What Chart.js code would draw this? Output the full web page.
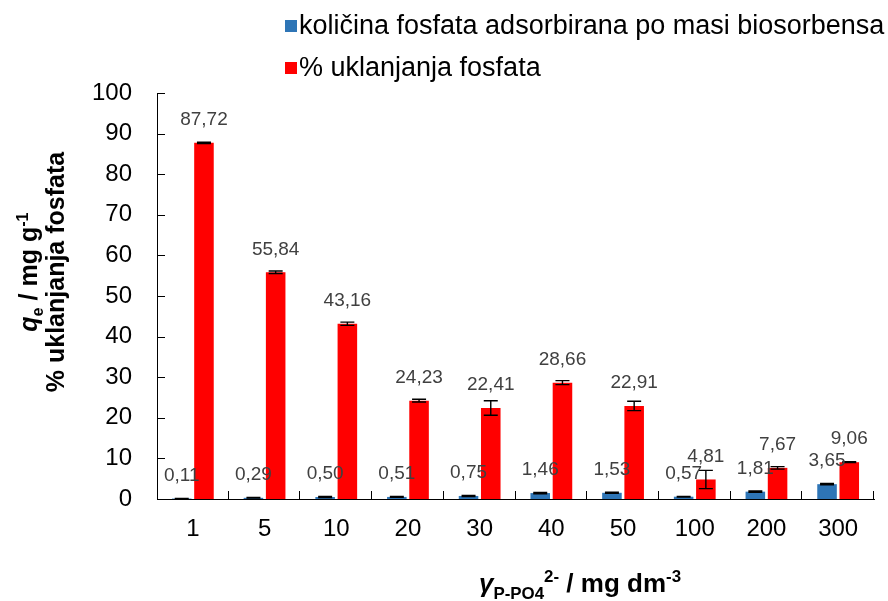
<!DOCTYPE html>
<html><head><meta charset="utf-8">
<script src="https://cdn.jsdelivr.net/npm/chart.js@4"></script>
<style>html,body{margin:0;padding:0;background:#fff}#wrap{width:888px;height:601px}</style>
</head><body><div id="wrap"><canvas id="c" width="888" height="601"></canvas></div>
<script>
const categories = ['1','5','10','20','30','40','50','100','200','300'];
const qeLabel = 'količina fosfata adsorbirana po masi biosorbensa';
const qeValues = [0.11, 0.29, 0.50, 0.51, 0.75, 1.46, 1.53, 0.57, 1.81, 3.65];
const qeErrors = [0.05, 0.08, 0.12, 0.12, 0.12, 0.15, 0.15, 0.08, 0.15, 0.15];
const removalLabel = '% uklanjanja fosfata';
const removalValues = [87.72, 55.84, 43.16, 24.23, 22.41, 28.66, 22.91, 4.81, 7.67, 9.06];
const removalErrors = [0.15, 0.3, 0.4, 0.35, 1.8, 0.5, 1.15, 2.25, 0.3, 0.1];
const yTickValues = [0, 10, 20, 30, 40, 50, 60, 70, 80, 90, 100];

const FONT = '"Liberation Sans", Arial, sans-serif';
const BLUE = '#2E75B6';
const RED = '#FF0000';

function fmt(v){ return v.toFixed(2).replace('.', ','); }

function richWidth(ctx, segs, base){
  let w = 0;
  for (const s of segs){
    const size = s.k ? base*0.65 : base;
    ctx.font = (s.i?'italic ':'') + 'bold ' + size + 'px ' + FONT;
    w += ctx.measureText(s.t).width;
  }
  return w;
}
function drawRich(ctx, segs, base, cx, baseline){
  const total = richWidth(ctx, segs, base);
  let x = cx - total/2;
  ctx.textAlign = 'left';
  ctx.textBaseline = 'alphabetic';
  for (const s of segs){
    const size = s.k ? base*0.65 : base;
    ctx.font = (s.i?'italic ':'') + 'bold ' + size + 'px ' + FONT;
    let dy = 0;
    if (s.k === 'sub') dy = base*0.25;
    if (s.k === 'sup') dy = -base*0.38;
    ctx.fillText(s.t, x, baseline + dy);
    x += ctx.measureText(s.t).width;
  }
}

const decor = {
  id: 'decor',
  afterDatasetsDraw(chart){
    const ctx = chart.ctx;
    const ys = chart.scales.y;
    const area = chart.chartArea;
    ctx.save();
    ctx.strokeStyle = '#000';
    ctx.lineWidth = 1;
    yTickValues.forEach(v => {
      const y = Math.round(ys.getPixelForValue(v)) + 0.5;
      ctx.beginPath(); ctx.moveTo(area.left, y); ctx.lineTo(area.left + 8, y); ctx.stroke();
    });
    const cw = (area.right - area.left) / categories.length;
    for (let i = 1; i <= categories.length; i++){
      const x = Math.round(area.left + i*cw) - 0.5;
      ctx.beginPath(); ctx.moveTo(x, area.bottom); ctx.lineTo(x, area.bottom - 8); ctx.stroke();
    }
    const errs = [qeErrors, removalErrors];
    chart.data.datasets.forEach((ds, di) => {
      const meta = chart.getDatasetMeta(di);
      meta.data.forEach((el, i) => {
        const v = ds.data[i], e = errs[di][i];
        const yt = ys.getPixelForValue(v + e), yb = ys.getPixelForValue(Math.max(0, v - e));
        ctx.lineWidth = 1.4;
        ctx.beginPath();
        ctx.moveTo(el.x, yt); ctx.lineTo(el.x, yb);
        ctx.moveTo(el.x - 7, yt); ctx.lineTo(el.x + 7, yt);
        ctx.moveTo(el.x - 7, yb); ctx.lineTo(el.x + 7, yb);
        ctx.stroke();
      });
    });
    ctx.fillStyle = '#404040';
    ctx.font = '19px ' + FONT;
    ctx.textAlign = 'center';
    ctx.textBaseline = 'middle';
    chart.data.datasets.forEach((ds, di) => {
      const meta = chart.getDatasetMeta(di);
      meta.data.forEach((el, i) => {
        ctx.fillText(fmt(ds.data[i]), el.x, ys.getPixelForValue(ds.data[i]) - 23);
      });
    });
    const items = [[qeLabel, BLUE, 26], [removalLabel, RED, 68]];
    items.forEach(([t, c, cy]) => {
      ctx.fillStyle = c;
      ctx.fillRect(285, cy - 6, 12, 12);
      ctx.fillStyle = '#000';
      ctx.font = '27px ' + FONT;
      ctx.textAlign = 'left';
      ctx.textBaseline = 'middle';
      ctx.fillText(t, 299, cy + 1);
    });
    ctx.fillStyle = '#000';
    ctx.save();
    ctx.rotate(-Math.PI/2);
    const cy = 272;
    drawRich(ctx, [{t:'q', i:true}, {t:'e', k:'sub'}, {t:' / mg g'}, {t:'-1', k:'sup'}], 25, -cy, 37);
    drawRich(ctx, [{t:'% uklanjanja fosfata'}], 25, -cy, 64);
    ctx.restore();
    drawRich(ctx, [{t:'γ', i:true}, {t:'P-PO4', k:'sub'}, {t:'2-', k:'sup'}, {t:' / mg dm'}, {t:'-3', k:'sup'}], 26, 580, 592);
    ctx.restore();
  }
};

new Chart(document.getElementById('c'), {
  type: 'bar',
  data: {
    labels: categories,
    datasets: [
      { label: qeLabel, data: qeValues, backgroundColor: BLUE, categoryPercentage: 0.62, barPercentage: 0.88 },
      { label: removalLabel, data: removalValues, backgroundColor: RED, categoryPercentage: 0.62, barPercentage: 0.88 }
    ]
  },
  options: {
    responsive: false,
    devicePixelRatio: 1,
    animation: false,
    layout: { padding: { top: 93, right: 14, left: 0, bottom: 0 } },
    plugins: { legend: { display: false }, tooltip: { enabled: false } },
    scales: {
      x: {
        grid: { display: false, drawTicks: false },
        border: { display: true, color: '#000', width: 1 },
        ticks: { color: '#000', font: { family: FONT, size: 24 }, padding: 16, maxRotation: 0 },
        afterFit(s){ s.height = 102; }
      },
      y: {
        min: 0, max: 100,
        afterBuildTicks(s){ s.ticks = yTickValues.map(v => ({ value: v })); },
        grid: { display: false, drawTicks: false },
        border: { display: true, color: '#000', width: 1 },
        ticks: { color: '#000', font: { family: FONT, size: 24 }, padding: 25 },
        afterFit(s){ s.width = 157; }
      }
    }
  },
  plugins: [decor]
});
</script>
</body></html>
